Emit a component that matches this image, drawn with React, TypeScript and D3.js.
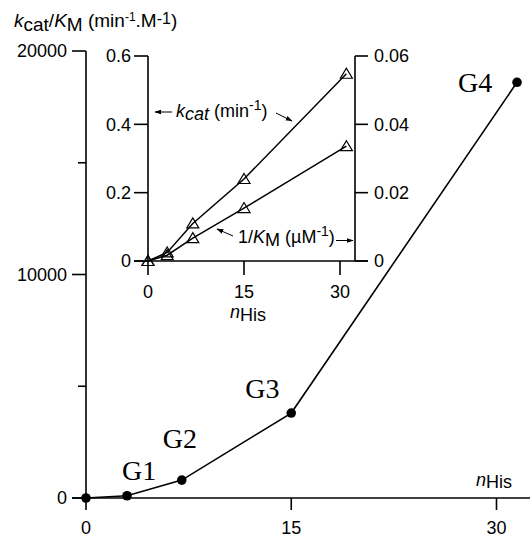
import React from 'react';
import * as d3 from 'd3';

// main plot: kcat/KM vs number of His
const mainN = [0, 3, 7, 15, 31.5];
const mainKcatKm = [0, 100, 800, 3800, 18600];
const groupNames = ['', 'G1', 'G2', 'G3', 'G4'];
const mainXTicks = [0, 15, 30];
const mainYTicks = [0, 10000, 20000];
const mainYMinor = [5000, 15000];

// inset: kcat and 1/KM vs number of His
const insetN = [0, 3, 7, 15, 31];
const kcatValues = [0, 0.025, 0.11, 0.24, 0.548];
const invKmValues = [0, 0.0017, 0.0067, 0.0155, 0.0336];
const insetXTicks = [0, 15, 30];
const insetLeftTicks = [0, 0.2, 0.4, 0.6];
const insetRightTicks = [0, 0.02, 0.04, 0.06];

// label offsets from their point (layout only)
const groupOffsets = [[0, 0], [-5, -16], [-19, -32], [-46, -15], [-59, 10]];

const sans = 'Liberation Sans, Arial, sans-serif';
const serif = 'Liberation Serif, Times New Roman, serif';

const fmtRight = (v: number) => (v === 0 ? '0' : d3.format('.2f')(v));

const App = () => {
  const x = d3.scaleLinear().domain([0, 30]).range([86, 496.5]);
  const y = d3.scaleLinear().domain([0, 20000]).range([498, 51]);

  const ix = d3.scaleLinear().domain([0, 30]).range([148, 340]);
  const iyL = d3.scaleLinear().domain([0, 0.6]).range([261, 56]);
  const iyR = d3.scaleLinear().domain([0, 0.06]).range([261, 56]);

  const mainLine = d3.line<number>()
    .x((_, i) => x(mainN[i]))
    .y(d => y(d));
  const kcatLine = d3.line<number>()
    .x((_, i) => ix(insetN[i]))
    .y(d => iyL(d));
  const kmLine = d3.line<number>()
    .x((_, i) => ix(insetN[i]))
    .y(d => iyR(d));

  const tri = 'M0,-5.5L6,4.5L-6,4.5Z';

  return (
    <svg width={530} height={537} style={{ position: 'absolute', left: 0, top: 0, background: '#fff' }}>
      <defs>
        <marker id="ah" viewBox="0 0 10 10" refX="9" refY="5" markerWidth="7" markerHeight="7" orient="auto">
          <path d="M0,1.5L10,5L0,8.5Z" fill="#000" />
        </marker>
      </defs>

      {/* main axes */}
      <line x1={x(0)} x2={x(0)} y1={y(20000)} y2={y(0)} stroke="#000" strokeWidth={1.6} />
      <line x1={72} x2={530} y1={y(0)} y2={y(0)} stroke="#000" strokeWidth={1.6} />
      {mainYTicks.map(t => (
        <g key={'my' + t}>
          <line x1={72} x2={x(0)} y1={y(t)} y2={y(t)} stroke="#000" strokeWidth={1.6} />
          <text x={67} y={y(t)} dy="0.35em" textAnchor="end" fontFamily={sans} fontSize={18}>{t}</text>
        </g>
      ))}
      {mainYMinor.map(t => (
        <line key={'mm' + t} x1={78} x2={x(0)} y1={y(t)} y2={y(t)} stroke="#000" strokeWidth={1.6} />
      ))}
      {mainXTicks.map(t => (
        <g key={'mx' + t}>
          <line x1={x(t)} x2={x(t)} y1={y(0)} y2={y(0) + 12} stroke="#000" strokeWidth={1.6} />
          <text x={x(t)} y={534} textAnchor="middle" fontFamily={sans} fontSize={18}>{t}</text>
        </g>
      ))}
      <text x={14} y={27} fontFamily={sans} fontSize={19}>
        <tspan fontStyle="italic">k</tspan>
        <tspan dy={4}>cat</tspan>
        <tspan dy={-4}>/</tspan>
        <tspan fontStyle="italic">K</tspan>
        <tspan dy={4}>M</tspan>
        <tspan dy={-4}> (min</tspan>
        <tspan dy={-6} fontSize={12}>-1</tspan>
        <tspan dy={6}>.M</tspan>
        <tspan dy={-3} fontSize={16}>-1</tspan>
        <tspan dy={3}>)</tspan>
      </text>
      <text x={476} y={486} fontFamily={sans} fontSize={18}>
        <tspan fontStyle="italic">n</tspan>
        <tspan dy={2}>His</tspan>
      </text>

      {/* main series */}
      <path d={mainLine(mainKcatKm) || ''} fill="none" stroke="#000" strokeWidth={1.6} />
      {mainKcatKm.map((v, i) => (
        <g key={'mp' + i}>
          <circle cx={x(mainN[i])} cy={y(v)} r={4.8} fill="#000" />
          {groupNames[i] && (
            <text x={x(mainN[i]) + groupOffsets[i][0]} y={y(v) + groupOffsets[i][1]} fontFamily={serif} fontSize={28}>
              {groupNames[i]}
            </text>
          )}
        </g>
      ))}

      {/* inset axes */}
      <line x1={ix(0)} x2={ix(0)} y1={iyL(0.6)} y2={iyL(0)} stroke="#000" strokeWidth={1.6} />
      <line x1={355} x2={355} y1={iyR(0.06)} y2={iyR(0)} stroke="#000" strokeWidth={1.6} />
      <line x1={134} x2={368} y1={iyL(0)} y2={iyL(0)} stroke="#000" strokeWidth={1.6} />
      {insetLeftTicks.map(t => (
        <g key={'il' + t}>
          <line x1={134} x2={ix(0)} y1={iyL(t)} y2={iyL(t)} stroke="#000" strokeWidth={1.6} />
          <text x={131} y={iyL(t)} dy="0.35em" textAnchor="end" fontFamily={sans} fontSize={18}>{t}</text>
        </g>
      ))}
      {insetRightTicks.map(t => (
        <g key={'ir' + t}>
          <line x1={355} x2={368} y1={iyR(t)} y2={iyR(t)} stroke="#000" strokeWidth={1.6} />
          <text x={374} y={iyR(t)} dy="0.35em" fontFamily={sans} fontSize={18}>{fmtRight(t)}</text>
        </g>
      ))}
      {insetXTicks.map(t => (
        <g key={'ix' + t}>
          <line x1={ix(t)} x2={ix(t)} y1={iyL(0)} y2={iyL(0) + 14} stroke="#000" strokeWidth={1.6} />
          <text x={ix(t)} y={298} textAnchor="middle" fontFamily={sans} fontSize={18}>{t}</text>
        </g>
      ))}
      <text x={230} y={318} fontFamily={sans} fontSize={18}>
        <tspan fontStyle="italic">n</tspan>
        <tspan dy={3}>His</tspan>
      </text>

      {/* inset series */}
      <path d={kcatLine(kcatValues) || ''} fill="none" stroke="#000" strokeWidth={1.5} />
      <path d={kmLine(invKmValues) || ''} fill="none" stroke="#000" strokeWidth={1.5} />
      {kcatValues.map((v, i) => (
        <path key={'kc' + i} d={tri} transform={`translate(${ix(insetN[i])},${iyL(v)})`} fill="none" stroke="#000" strokeWidth={1.2} />
      ))}
      {invKmValues.map((v, i) => (
        <path key={'km' + i} d={tri} transform={`translate(${ix(insetN[i])},${iyR(v)})`} fill="none" stroke="#000" strokeWidth={1.2} />
      ))}

      {/* annotations */}
      <line x1={172} y1={112} x2={155} y2={112} stroke="#000" strokeWidth={1} markerEnd="url(#ah)" />
      <text x={176} y={117} fontFamily={sans} fontSize={18}>
        <tspan fontStyle="italic">k</tspan>
        <tspan dy={3} fontStyle="italic">cat</tspan>
        <tspan dy={-3}> (min</tspan>
        <tspan dy={-7} fontSize={14}>-1</tspan>
        <tspan dy={7}>)</tspan>
      </text>
      <line x1={276} y1={113} x2={292} y2={121} stroke="#000" strokeWidth={1} markerEnd="url(#ah)" />
      <line x1={233} y1={236} x2={217} y2={229} stroke="#000" strokeWidth={1} markerEnd="url(#ah)" />
      <text x={238} y={243} fontFamily={sans} fontSize={18}>
        <tspan>1/</tspan>
        <tspan fontStyle="italic">K</tspan>
        <tspan dy={3}>M</tspan>
        <tspan dy={-3}> (µM</tspan>
        <tspan dy={-7} fontSize={14}>-1</tspan>
        <tspan dy={7}>)</tspan>
      </text>
      <line x1={336} y1={240.5} x2={353} y2={240.5} stroke="#000" strokeWidth={1} markerEnd="url(#ah)" />
    </svg>
  );
};

export default App;
